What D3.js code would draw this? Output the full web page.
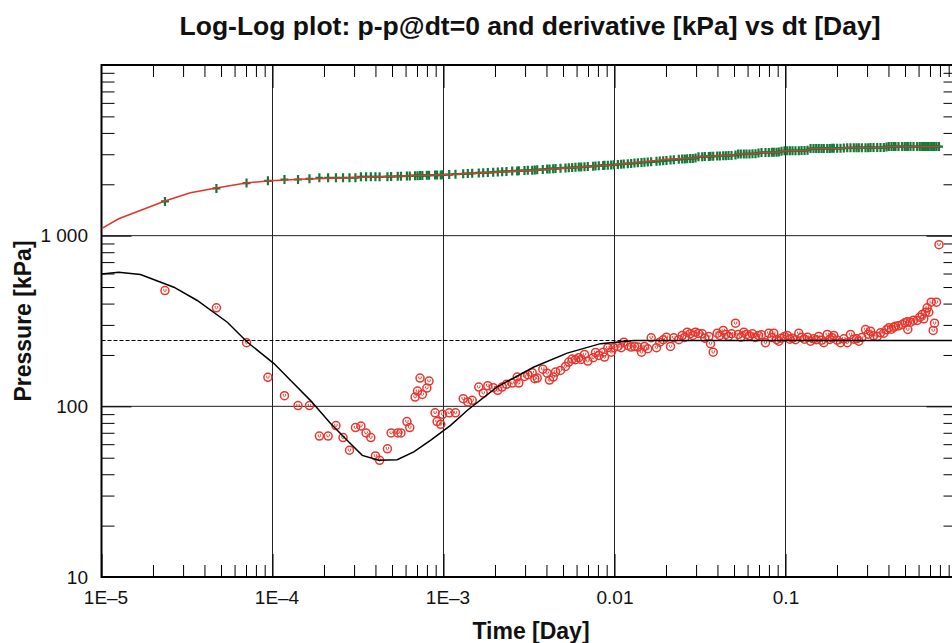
<!DOCTYPE html>
<html>
<head>
<meta charset="utf-8">
<script src="https://cdn.jsdelivr.net/npm/d3@7"></script>
<style>
  html, body { margin: 0; padding: 0; background: #fff; }
  svg { display: block; font-family: "Liberation Sans", Arial, Helvetica, sans-serif; }
</style>
</head>
<body>
<svg id="chart" width="952" height="643"></svg>
<script>
// ---------------- data ----------------
const titleText = "Log-Log plot: p-p@dt=0 and derivative [kPa] vs dt [Day]";
const xAxisTitle = "Time [Day]";
const yAxisTitle = "Pressure [kPa]";

const xMajorTicks = [1e-5, 1e-4, 1e-3, 0.01, 0.1];
const xTickLabels = ["1E\u20135", "1E\u20134", "1E\u20133", "0.01", "0.1"];
const yMajorTicks = [10, 100, 1000];
const yTickLabels = ["10", "100", "1 000"];

// measured data: elapsed time [Day], pressure change [kPa], derivative [kPa]
const times = [
  2.35e-5, 4.70e-5, 7.05e-5, 9.40e-5, 1.175e-4, 1.41e-4, 1.645e-4, 1.88e-4, 2.115e-4, 2.35e-4,
  2.585e-4, 2.82e-4, 3.055e-4, 3.29e-4, 3.525e-4, 3.76e-4, 4.0e-4, 4.23e-4, 4.70e-4, 4.94e-4,
  5.40e-4, 5.64e-4, 6.11e-4, 6.35e-4, 6.82e-4, 7.05e-4, 7.29e-4, 7.52e-4, 7.99e-4, 8.23e-4,
  8.93e-4, 9.17e-4, 9.64e-4, 9.87e-4, 1.08e-3, 1.175e-3,
  1.304e-3, 1.387e-3, 1.472e-3, 1.608e-3, 1.707e-3, 1.816e-3, 1.953e-3, 2.077e-3, 2.204e-3, 2.335e-3,
  2.522e-3, 2.698e-3, 2.757e-3, 2.977e-3, 3.112e-3, 3.302e-3, 3.419e-3, 3.532e-3, 3.807e-3, 4.040e-3,
  4.168e-3, 4.380e-3, 4.519e-3, 4.832e-3, 5.170e-3, 5.403e-3, 5.656e-3, 5.913e-3, 6.182e-3, 6.386e-3,
  6.676e-3, 6.979e-3, 7.505e-3, 7.742e-3, 8.093e-3, 8.590e-3, 8.740e-3, 9.137e-3, 9.566e-3, 9.906e-3,
  1.046e-2, 1.094e-2, 1.133e-2, 1.196e-2, 1.252e-2, 1.309e-2, 1.369e-2, 1.438e-2, 1.497e-2, 1.565e-2,
  1.639e-2, 1.760e-2, 1.840e-2, 1.927e-2, 2.014e-2, 2.126e-2, 2.223e-2, 2.377e-2,
  0.02488, 0.02577, 0.02661, 0.02771, 0.02870, 0.02977, 0.03099, 0.03258, 0.03374, 0.03561,
  0.03643, 0.03778, 0.03988, 0.04130, 0.04323, 0.04477, 0.04642, 0.04833, 0.05100, 0.05289,
  0.05477, 0.05703, 0.05914, 0.06158, 0.06412, 0.06677, 0.06952, 0.07239, 0.07638, 0.07985,
  0.08315, 0.08542, 0.08859, 0.09138, 0.09476, 0.09867, 0.1023, 0.1060, 0.1099, 0.1144,
  0.1196, 0.1241, 0.1292, 0.1345, 0.1401, 0.1458, 0.1512, 0.1565, 0.1624, 0.1675,
  0.1754, 0.1816, 0.1875, 0.1916, 0.2006, 0.2097, 0.2193, 0.2296, 0.2399, 0.2508,
  0.2601, 0.2683, 0.2794, 0.2937, 0.3046, 0.3142, 0.3271, 0.3439, 0.3594, 0.3757,
  0.3897, 0.4018, 0.4167, 0.4298, 0.4398, 0.4579, 0.4814, 0.4985, 0.5149, 0.5191,
  0.5383, 0.5605, 0.5890, 0.6100, 0.6301, 0.6439, 0.6587, 0.6741, 0.6887, 0.7112,
  0.7306, 0.7435, 0.7638, 0.790
];
const pressure = [
  1587, 1891, 2033, 2097, 2134, 2134, 2154, 2184, 2184, 2184,
  2184, 2184, 2184, 2213, 2213, 2213, 2213, 2213, 2217, 2220,
  2228, 2230, 2236, 2240, 2246, 2246, 2249, 2251, 2257, 2260,
  2265, 2266, 2270, 2273, 2280, 2291,
  2304, 2310, 2318, 2330, 2336, 2344, 2355, 2362, 2370, 2380,
  2390, 2396, 2400, 2410, 2415, 2421, 2427, 2432, 2445, 2455,
  2460, 2468, 2472, 2483, 2493, 2499, 2507, 2514, 2522, 2526,
  2533, 2540, 2554, 2560, 2568, 2578, 2582, 2590, 2596, 2602,
  2612, 2623, 2630, 2642, 2652, 2662, 2673, 2684, 2693, 2700,
  2709, 2726, 2736, 2745, 2757, 2772, 2783, 2800,
  2809, 2815, 2820, 2828, 2835, 2848, 2897, 2900, 2905, 2912,
  2915, 2920, 2928, 2932, 2938, 2943, 2948, 2953, 2965, 3005,
  3008, 3010, 3012, 3013, 3015, 3017, 3050, 3070, 3073, 3076,
  3079, 3080, 3083, 3087, 3120, 3141, 3142, 3144, 3145, 3147,
  3149, 3150, 3152, 3170, 3240, 3241, 3242, 3243, 3244, 3245,
  3246, 3246, 3247, 3247, 3248, 3249, 3260, 3270, 3272, 3274,
  3275, 3276, 3277, 3278, 3279, 3280, 3281, 3282, 3283, 3284,
  3310, 3329, 3329, 3329, 3329, 3329, 3329, 3329, 3329, 3329,
  3329, 3329, 3329, 3329, 3329, 3329, 3329, 3329, 3329, 3329,
  3329, 3329, 3329, 3329
];
const derivative = [
  477, 378, 236, 148, 115.5, 101, 101, 67, 67, 77.1,
  65.6, 55.3, 75.1, 76.7, 69.8, 65.6, 51.2, 48.3, 56.4, 69.8,
  69.8, 69.8, 81.4, 75.1, 113.3, 122.9, 146.4, 117.5, 128, 140.6,
  91.6, 81.4, 78.5, 89.8, 91.6, 91.6,
  110.9, 105.9, 108.4, 129.7, 119.6, 132.1, 128.7, 124.1, 129.7, 134.5,
  136.9, 148.4, 136.9, 149.8, 153.3, 157.4, 145.2, 146.4, 165.2, 156.5,
  142.5, 148.4, 158.7, 162.4, 171.4, 181.6, 189.1, 187.6, 192.7, 188.3,
  201.4, 184.1, 192.7, 206.9, 198.7, 207.7, 194.3, 220.5, 207.7, 220.5,
  224.4, 220.5, 237.7, 227.4, 222.3, 224.4, 222.3, 207.7, 224.4, 217.5,
  252.3, 220.5, 237.7, 245.5, 254.3, 224.4, 252.3, 245.5,
  260.2, 253.2, 271.9, 266.2, 260.2, 271.9, 267.3, 266.2, 250.8, 256.7,
  232.6, 207.7, 268.4, 260.2, 278.3, 263.7, 256.7, 266.2, 307.0, 263.7,
  254.3, 271.9, 263.7, 259.1, 266.2, 253.2, 260.2, 262.6, 235.8, 268.4,
  253.2, 268.4, 246.5, 240.9, 250.8, 256.7, 260.2, 247.5, 250.8, 245.5,
  268.4, 253.2, 247.5, 254.3, 240.9, 248.8, 245.5, 256.7, 244.2, 235.8,
  263.7, 246.5, 252.2, 260.2, 244.2, 235.8, 248.8, 235.8, 263.7, 247.5,
  248.8, 240.9, 253.2, 282.0, 264.8, 275.7, 259.1, 256.7, 269.8, 268.4,
  280.9, 288.5, 283.1, 290.9, 294.8, 296.4, 301.7, 308.7, 312.9, 282.0,
  311.2, 319.7, 318.4, 332.9, 345.2, 325.8, 355.9, 377.7, 355.9, 407.4,
  278.3, 307.0, 407.4, 886
];

// model pressure (red line)
const modelTime = [
  1.0e-5, 1.26e-5, 2.37e-5, 3.31e-5, 4.77e-5, 7.14e-5, 9.73e-5, 1.46e-4, 4.29e-4, 1.0e-3,
  3.41e-3, 9.9e-3, 0.02126, 0.02977, 0.03058, 0.0510, 0.0524, 0.06767, 0.07046, 0.09225,
  0.09605, 0.1327, 0.1401, 0.2154, 0.2244, 0.3793, 0.3950, 0.806
];
const modelPressure = [
  1099, 1256, 1603, 1783, 1910, 2043, 2098, 2140, 2213, 2273,
  2421, 2600, 2809, 2848, 2897, 2965, 3005, 3017, 3070, 3087,
  3141, 3154, 3240, 3249, 3270, 3284, 3329, 3329
];

// model derivative (black line)
const modelDerivTime = [
  1.0e-5, 1.26e-5, 1.69e-5, 2.65e-5, 3.63e-5, 5.44e-5, 7.11e-5, 1.02e-4, 1.33e-4, 1.67e-4,
  2.18e-4, 2.73e-4, 3.35e-4, 4.19e-4, 5.36e-4, 6.7e-4, 8.39e-4, 1.1e-3, 1.38e-3, 2.06e-3,
  3.38e-3, 5.29e-3, 8.28e-3, 1.3e-2, 1.0
];
const modelDerivative = [
  597, 610, 592, 499, 417, 311, 238, 178, 136, 108,
  79.6, 63.2, 51.6, 48.3, 48.7, 54.1, 63.2, 77.4, 94.9, 130,
  170, 205, 233, 243, 243
];

// radial flow stabilization level (dashed line)
const stabilizationLevel = 243;

// ---------------- drawing ----------------
const svg = d3.select("#chart");
const plot = { left: 101.5, right: 956.5, top: 65, bottom: 577 };

const x = d3.scaleLog().domain([1e-5, 1]).range([plot.left, plot.right]);
const y = d3.scaleLog().domain([10, 10000]).range([plot.bottom, plot.top]);

const decadesX = [1e-5, 1e-4, 1e-3, 1e-2, 1e-1, 1];
const minorX = [];
decadesX.slice(0, -1).forEach(d => { for (let k = 2; k <= 9; k++) minorX.push(d * k); });
const decadesY = [10, 100, 1000, 10000];
const minorY = [];
decadesY.slice(0, -1).forEach(d => { for (let k = 2; k <= 9; k++) minorY.push(d * k); });

svg.append("defs").append("clipPath").attr("id", "clip")
  .append("rect").attr("x", plot.left).attr("y", plot.top)
  .attr("width", plot.right - plot.left).attr("height", plot.bottom - plot.top);

// grid lines
const grid = svg.append("g").attr("stroke", "#222").attr("stroke-width", 1);
[1e-4, 1e-3, 1e-2, 1e-1].forEach(v => {
  grid.append("line").attr("x1", x(v)).attr("x2", x(v)).attr("y1", plot.top).attr("y2", plot.bottom);
});
[100, 1000].forEach(v => {
  grid.append("line").attr("x1", plot.left).attr("x2", plot.right).attr("y1", y(v)).attr("y2", y(v));
});

function styleAxis(g) {
  g.select(".domain").remove();
  g.selectAll(".tick line").attr("stroke", "#000").attr("stroke-width", 1);
}
const labelFont = '"Liberation Sans", Arial, sans-serif';

// bottom axis
svg.append("g").attr("transform", `translate(0,${plot.bottom})`)
  .call(d3.axisBottom(x).tickValues(minorX).tickSizeInner(-12).tickSizeOuter(0).tickFormat(""))
  .call(styleAxis);
svg.append("g").attr("transform", `translate(0,${plot.bottom})`)
  .call(d3.axisBottom(x).tickValues(xMajorTicks).tickSizeInner(-23).tickSizeOuter(0)
    .tickPadding(13.5).tickFormat((d, i) => xTickLabels[i]))
  .call(styleAxis)
  .call(g => g.selectAll("text")
    .attr("font-size", 19).attr("fill", "#111").attr("font-family", labelFont)
    .attr("dx", (d, i) => xTickLabels[i].indexOf("E") >= 0 ? 4 : 0));

// top axis
svg.append("g").attr("transform", `translate(0,${plot.top})`)
  .call(d3.axisTop(x).tickValues(minorX).tickSizeInner(-12).tickSizeOuter(0).tickFormat(""))
  .call(styleAxis);
svg.append("g").attr("transform", `translate(0,${plot.top})`)
  .call(d3.axisTop(x).tickValues(xMajorTicks.slice(1)).tickSizeInner(-23).tickSizeOuter(0).tickFormat(""))
  .call(styleAxis);

// left axis
svg.append("g").attr("transform", `translate(${plot.left},0)`)
  .call(d3.axisLeft(y).tickValues(minorY).tickSizeInner(-13).tickSizeOuter(0).tickFormat(""))
  .call(styleAxis);
svg.append("g").attr("transform", `translate(${plot.left},0)`)
  .call(d3.axisLeft(y).tickValues(yMajorTicks).tickSizeInner(-30).tickSizeOuter(0)
    .tickPadding(13.5).tickFormat((d, i) => yTickLabels[i]))
  .call(styleAxis)
  .call(g => g.selectAll("text")
    .attr("font-size", 19).attr("fill", "#111").attr("font-family", labelFont));

// right axis (mostly outside the window)
svg.append("g").attr("transform", `translate(${plot.right},0)`)
  .call(d3.axisRight(y).tickValues(minorY).tickSizeInner(-13).tickSizeOuter(0).tickFormat(""))
  .call(styleAxis);
svg.append("g").attr("transform", `translate(${plot.right},0)`)
  .call(d3.axisRight(y).tickValues([100, 1000]).tickSizeInner(-30).tickSizeOuter(0).tickFormat(""))
  .call(styleAxis);

// frame
svg.append("path")
  .attr("d", `M${plot.right},${plot.top}H${plot.left}V${plot.bottom}H${plot.right}`)
  .attr("fill", "none").attr("stroke", "#000").attr("stroke-width", 2);

const body = svg.append("g").attr("clip-path", "url(#clip)");

// derivative data circles
const circG = body.append("g").attr("fill", "none").attr("stroke", "#e8362d");
times.forEach((t, i) => {
  const g = circG.append("g").attr("transform", `translate(${x(t)},${y(derivative[i])})`);
  g.append("circle").attr("r", 4).attr("stroke-width", 1.5);
  g.append("path").attr("d", "M-1.2,-1.7V0.2Q0,1.8 1.2,0.2V-1.7").attr("stroke-width", 0.9);
});

// pressure data crosses
const crossG = body.append("g").attr("stroke", "#0a7d3b").attr("stroke-width", 2.2).attr("fill", "none");
times.forEach((t, i) => {
  const cx = x(t), cy = y(pressure[i]);
  crossG.append("path").attr("d", `M${cx - 4},${cy}H${cx + 4}M${cx},${cy - 4.5}V${cy + 4.5}`);
});

// model pressure line
const line = d3.line().x(d => x(d[0])).y(d => y(d[1]));
body.append("path")
  .datum(modelTime.map((t, i) => [t, modelPressure[i]]))
  .attr("d", line).attr("fill", "none").attr("stroke", "#e3332b").attr("stroke-width", 1.5);

// stabilization dashed line
body.append("line")
  .attr("x1", plot.left).attr("x2", plot.right)
  .attr("y1", y(stabilizationLevel)).attr("y2", y(stabilizationLevel))
  .attr("stroke", "#000").attr("stroke-width", 1.2).attr("stroke-dasharray", "4,2");

// model derivative line
body.append("path")
  .datum(modelDerivTime.map((t, i) => [t, modelDerivative[i]]))
  .attr("d", line).attr("fill", "none").attr("stroke", "#000").attr("stroke-width", 1.5);

// titles
svg.append("text").attr("x", 530).attr("y", 35).attr("text-anchor", "middle")
  .attr("font-size", 26.5).attr("font-weight", "bold").attr("fill", "#111").text(titleText);
svg.append("text").attr("x", 531).attr("y", 639).attr("text-anchor", "middle")
  .attr("font-size", 23).attr("font-weight", "bold").attr("fill", "#111").text(xAxisTitle);
svg.append("text").attr("transform", "translate(31,321) rotate(-90)").attr("text-anchor", "middle")
  .attr("font-size", 23).attr("font-weight", "bold").attr("fill", "#111").text(yAxisTitle);
</script>
</body>
</html>
